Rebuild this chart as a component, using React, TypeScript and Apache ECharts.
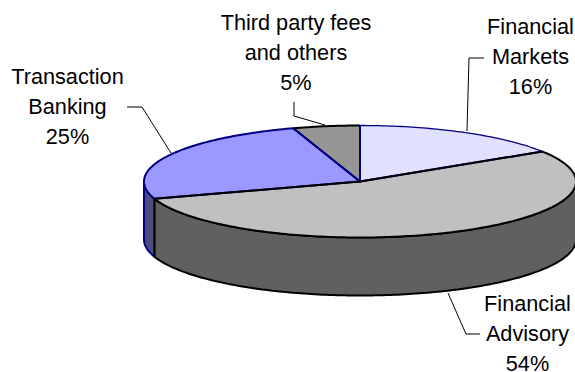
import React, { useEffect, useRef } from "react";
import * as echarts from "echarts";

// Revenue split, in reading order clockwise from twelve o'clock.
const segments = ["Financial Markets", "Financial Advisory", "Transaction Banking", "Third party fees and others"];
const shares = [16, 54, 25, 5];
const labelLines = [
  ["Financial", "Markets"],
  ["Financial", "Advisory"],
  ["Transaction", "Banking"],
  ["Third party fees", "and others"],
];

// Tilted disc geometry, in pixels.
const CX = 360;
const CY = 181.5;
const RX = 216;
const RY = 56;
const DEPTH = 58;

const sliceStyles = [
  { top: "#E0E0FF", side: "#707080", edge: "#000080", arc: "#000080", arcWidth: 1.3, z: 3 },
  { top: "#C0C0C0", side: "#606060", edge: "#000000", arc: "#000000", arcWidth: 2, z: 4 },
  { top: "#9999FF", side: "#4C4C80", edge: "#000080", arc: "#000080", arcWidth: 2, z: 1 },
  { top: "#969696", side: "#4B4B4B", edge: "#000080", arc: "#000000", arcWidth: 2, z: 2 },
];

const labelCenters = [
  [530.5, 26.5],
  [527.5, 303.5],
  [67.5, 76.5],
  [296, 22],
];

const leaders = [
  [[467, 131], [469, 58], [484, 58]],
  [[448, 293], [466, 334], [480, 334]],
  [[171, 153], [142, 107], [127, 107]],
  [[325, 125], [294, 116], [294, 102]],
];

const LINE_HEIGHT = 30;

const rimPoint = (deg: number, dy = 0): number[] => {
  const a = (deg * Math.PI) / 180;
  return [CX + RX * Math.sin(a), CY - RY * Math.cos(a) + dy];
};

const arcPoints = (from: number, to: number, dy = 0): number[][] => {
  const steps = Math.max(2, Math.ceil(Math.abs(to - from)));
  const pts: number[][] = [];
  for (let i = 0; i <= steps; i++) pts.push(rimPoint(from + ((to - from) * i) / steps, dy));
  return pts;
};

const total = shares.reduce((a, b) => a + b, 0);

function renderSlice(params: any, api: any) {
  const i = params.dataIndex;
  const value = api.value(0) as number;
  const before = shares.slice(0, i).reduce((a, b) => a + b, 0);
  const start = (before / total) * 360;
  const end = ((before + value) / total) * 360;
  const s = sliceStyles[i];
  const children: any[] = [];

  // Outer wall: only the part of the rim facing the viewer.
  const wallFrom = Math.max(start, 90);
  const wallTo = Math.min(end, 270);
  if (wallTo > wallFrom) {
    const topRim = arcPoints(wallFrom, wallTo);
    const lowRim = arcPoints(wallTo, wallFrom, DEPTH);
    children.push({
      type: "polygon",
      z2: s.z,
      shape: { points: [...topRim, ...lowRim] },
      style: { fill: s.side, stroke: s.edge, lineWidth: 2, lineJoin: "round" },
    });
  }

  // Top face.
  const rim = arcPoints(start, end);
  children.push({
    type: "polygon",
    z2: s.z + 10,
    shape: { points: [[CX, CY], ...rim] },
    style: { fill: s.top },
  });
  children.push({
    type: "polyline",
    z2: s.z + 20,
    shape: { points: [rim[rim.length - 1], [CX, CY], rim[0]] },
    style: { fill: "none", stroke: s.edge, lineWidth: 2, lineJoin: "round" },
  });
  children.push({
    type: "polyline",
    z2: s.z + 20,
    shape: { points: rim },
    style: { fill: "none", stroke: s.arc, lineWidth: s.arcWidth, lineJoin: "round" },
  });

  // Leader line and caption.
  children.push({
    type: "polyline",
    z2: 40,
    shape: { points: leaders[i] },
    style: { fill: "none", stroke: "#000000", lineWidth: 1 },
  });
  [...labelLines[i], `${value}%`].forEach((line, k) => {
    children.push({
      type: "text",
      z2: 50,
      style: {
        x: labelCenters[i][0],
        y: labelCenters[i][1] + k * LINE_HEIGHT,
        text: line,
        align: "center",
        verticalAlign: "middle",
        fill: "#000000",
        font: '21.7px "Liberation Sans", Arial, sans-serif',
      },
    });
  });

  return { type: "group", children };
}

export default function App() {
  const ref = useRef<HTMLDivElement>(null);

  useEffect(() => {
    document.body.style.margin = "0";
    const chart = echarts.init(ref.current!, undefined, { renderer: "svg" });
    chart.setOption({
      animation: false,
      backgroundColor: "#FFFFFF",
      series: [
        {
          type: "custom",
          coordinateSystem: "none",
          renderItem: renderSlice,
          clip: false,
          data: shares.map((v, i) => ({ name: segments[i], value: [v] })),
        },
      ],
    });
    return () => chart.dispose();
  }, []);

  return <div ref={ref} style={{ width: 575, height: 372 }} />;
}
